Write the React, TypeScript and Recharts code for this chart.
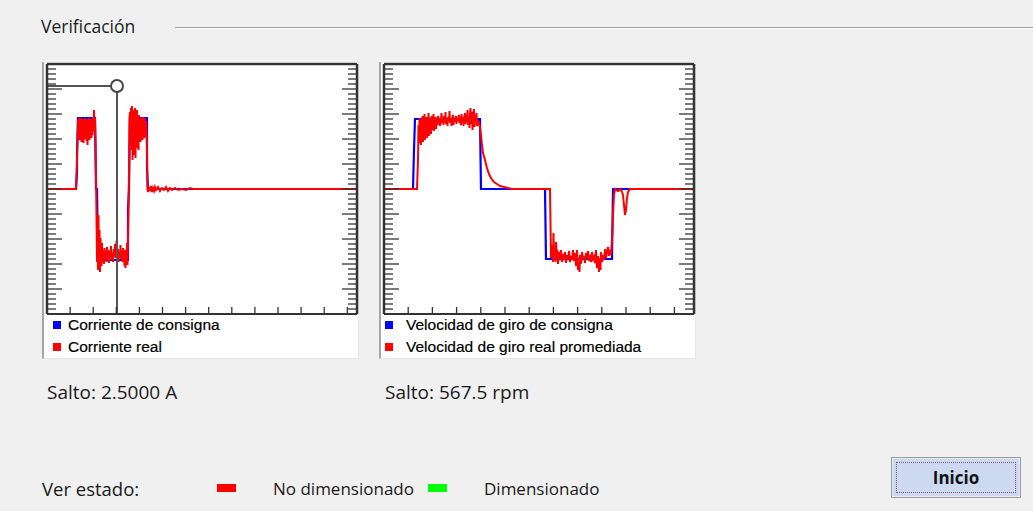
import React from 'react';
import { LineChart, Line, XAxis, YAxis, ReferenceLine, ReferenceDot, Legend } from 'recharts';

// ---------- axis ticks ----------
const currentTimeTicks = [1, 2, 3, 4, 5, 6, 7, 8, 9, 10, 11, 12, 13];
const speedTimeTicks = [1, 2, 3, 4, 5, 6, 7, 8, 9, 10, 11, 12];
const yMajorTicks = [-4, -3, -2, -1, 0, 1, 2, 3, 4];
const yMinorTicks = [
  -4.8, -4.6, -4.4, -4.2, -3.8, -3.6, -3.4, -3.2, -2.8, -2.6, -2.4, -2.2, -1.8, -1.6, -1.4, -1.2,
  -0.8, -0.6, -0.4, -0.2, 0.2, 0.4, 0.6, 0.8, 1.2, 1.4, 1.6, 1.8, 2.2, 2.4, 2.6, 2.8, 3.2, 3.4,
  3.6, 3.8, 4.2, 4.4, 4.6, 4.8,
];
const currentTimeDomain = [0, 13.42];
const speedTimeDomain = [0, 12.81];
const valueDomain = [-5, 5];

// ---------- series names ----------
const currentSeriesNames = ['Corriente de consigna', 'Corriente real'];
const speedSeriesNames = ['Velocidad de giro de consigna', 'Velocidad de giro real promediada'];

// ---------- current chart: [time, value] ----------
const currentSetpoint: number[][] = [
  [0, 0], [1.255, 0], [1.299, 0.68], [1.299, 1.36], [1.342, 2.84], [2.078, 2.84], [2.121, 0],
  [2.165, 0], [2.208, -2.84], [3.506, -2.84], [3.506, -0.84], [3.55, 0], [3.593, 2.84],
  [4.329, 2.84], [4.329, 0.84], [4.372, 0], [13.42, 0],
];

const currentReal: number[][] = [
  [0, 0], [1.255, 0], [1.299, 1.16], [1.342, 2.76], [1.364, 2.16], [1.385, 2.84], [1.407, 1.96],
  [1.429, 2.68], [1.45, 2.04], [1.472, 2.84], [1.494, 1.88], [1.515, 2.56], [1.537, 2.24],
  [1.558, 2.8], [1.58, 1.84], [1.602, 2.72], [1.623, 2.0], [1.645, 2.84], [1.667, 2.12],
  [1.688, 2.6], [1.71, 1.92], [1.732, 2.8], [1.753, 1.76], [1.775, 2.68], [1.797, 2.08],
  [1.818, 2.84], [1.84, 1.96], [1.861, 2.52], [1.883, 2.28], [1.905, 2.8], [1.926, 2.04],
  [1.948, 2.72], [1.97, 2.16], [1.991, 2.88], [2.013, 2.44], [2.035, 3.16], [2.056, 2.32],
  [2.078, 2.84], [2.1, 1.96], [2.121, 0.56], [2.143, -1.04], [2.165, -2.92], [2.186, -2.24],
  [2.208, -3.24], [2.229, -1.04], [2.251, -3.0], [2.273, -1.64], [2.294, -3.32], [2.316, -1.96],
  [2.338, -2.64], [2.359, -3.08], [2.381, -2.16], [2.403, -2.92], [2.424, -2.44], [2.468, -3.0],
  [2.489, -2.36], [2.511, -2.76], [2.554, -2.48], [2.576, -2.92], [2.597, -2.32], [2.641, -2.76],
  [2.662, -2.44], [2.684, -2.96], [2.727, -2.52], [2.749, -2.76], [2.771, -2.28], [2.814, -2.84],
  [2.835, -2.56], [2.857, -2.92], [2.9, -2.4], [2.922, -2.72], [2.944, -2.2], [2.987, -2.76],
  [3.009, -2.08], [3.03, -2.64], [3.074, -2.4], [3.095, -2.92], [3.117, -2.52], [3.16, -2.76],
  [3.182, -2.24], [3.203, -2.8], [3.247, -2.48], [3.268, -2.92], [3.29, -2.36], [3.333, -2.68],
  [3.355, -3.08], [3.377, -2.44], [3.398, -3.16], [3.42, -2.52], [3.442, -2.92], [3.463, -2.16],
  [3.485, -3.04], [3.506, -2.04], [3.528, -1.04], [3.55, 0.76], [3.571, 2.84], [3.593, 3.08],
  [3.615, 2.16], [3.636, 3.24], [3.658, 1.56], [3.68, 3.32], [3.701, 1.16], [3.723, 3.16],
  [3.745, 1.76], [3.766, 3.08], [3.788, 1.36], [3.81, 3.24], [3.831, 1.24], [3.853, 2.96],
  [3.874, 1.64], [3.896, 3.16], [3.918, 1.96], [3.939, 2.84], [3.961, 1.56], [3.983, 2.96],
  [4.004, 2.04], [4.026, 2.76], [4.048, 1.88], [4.069, 2.84], [4.091, 2.16], [4.113, 2.68],
  [4.134, 1.96], [4.156, 2.88], [4.177, 2.28], [4.199, 2.76], [4.221, 2.04], [4.242, 2.84],
  [4.264, 2.36], [4.286, 2.72], [4.307, 2.44], [4.329, 1.56], [4.351, 0], [4.372, -0.12],
  [4.416, 0.08], [4.459, -0.08], [4.502, 0.12], [4.545, -0.12], [4.589, 0.04], [4.632, -0.08],
  [4.675, 0.08], [4.719, -0.04], [4.805, 0.08], [4.892, -0.08], [4.978, 0.04], [5.065, -0.04],
  [5.152, 0.08], [5.238, -0.08], [5.325, 0.04], [5.411, -0.04], [5.541, 0.04], [5.671, -0.04],
  [5.844, 0], [6.017, -0.04], [6.19, 0.04], [6.32, 0], [13.42, 0],
];

// cursor on the current chart
const cursorTime = 3.03;
const cursorValue = 4.12;

// ---------- speed chart: [time, value] ----------
const speedSetpoint: number[][] = [
  [0, 0], [1.198, 0], [1.24, 1.56], [1.281, 2.8], [3.967, 2.8], [4.008, 0], [6.653, 0],
  [6.694, -2.8], [9.421, -2.8], [9.463, 0], [12.81, 0],
];

const speedReal: number[][] = [
  [0, 0], [1.364, 0], [1.405, 1.16], [1.426, 2.56], [1.446, 1.84], [1.467, 2.84], [1.488, 1.96],
  [1.508, 2.68], [1.529, 1.76], [1.55, 2.76], [1.57, 2.04], [1.591, 2.92], [1.612, 1.88],
  [1.632, 2.6], [1.653, 2.12], [1.674, 3.0], [1.694, 1.96], [1.715, 2.72], [1.736, 2.16],
  [1.756, 2.88], [1.777, 2.04], [1.798, 2.6], [1.818, 2.24], [1.839, 3.04], [1.86, 2.12],
  [1.88, 2.8], [1.901, 2.32], [1.921, 2.68], [1.942, 2.2], [1.963, 2.92], [1.983, 2.36],
  [2.004, 2.72], [2.025, 2.44], [2.045, 3.0], [2.066, 2.32], [2.087, 2.76], [2.107, 2.48],
  [2.128, 2.88], [2.149, 2.4], [2.19, 2.8], [2.211, 2.56], [2.231, 2.92], [2.273, 2.6],
  [2.293, 2.84], [2.314, 2.52], [2.355, 2.76], [2.376, 3.04], [2.397, 2.64], [2.438, 2.84],
  [2.459, 2.56], [2.479, 2.92], [2.521, 2.68], [2.541, 3.08], [2.562, 2.6], [2.603, 2.8],
  [2.624, 2.52], [2.645, 2.88], [2.686, 2.72], [2.707, 3.12], [2.727, 2.64], [2.769, 2.84],
  [2.789, 2.52], [2.81, 2.76], [2.851, 2.96], [2.872, 2.56], [2.893, 2.8], [2.934, 2.68],
  [2.975, 2.92], [2.996, 2.6], [3.017, 2.84], [3.058, 2.72], [3.099, 2.96], [3.12, 2.64],
  [3.14, 2.84], [3.182, 2.56], [3.202, 3.0], [3.223, 2.72], [3.264, 2.88], [3.285, 2.52],
  [3.306, 2.8], [3.347, 3.04], [3.368, 2.6], [3.388, 2.84], [3.43, 2.68], [3.45, 3.16],
  [3.471, 2.56], [3.512, 2.92], [3.533, 2.44], [3.554, 3.0], [3.574, 3.24], [3.595, 2.6],
  [3.636, 3.08], [3.657, 2.36], [3.678, 2.88], [3.719, 3.2], [3.74, 2.48], [3.76, 2.96],
  [3.802, 2.72], [3.822, 3.04], [3.843, 2.52], [3.884, 2.76], [3.926, 2.64], [3.967, 2.44],
  [4.008, 2.16], [4.05, 1.76], [4.091, 1.44], [4.174, 1.16], [4.256, 0.84], [4.339, 0.6],
  [4.421, 0.44], [4.545, 0.28], [4.669, 0.2], [4.793, 0.12], [4.959, 0.08], [5.124, 0.04],
  [5.289, 0], [6.86, 0], [6.901, -2.76], [6.942, -2.24], [6.983, -2.92], [7.004, -1.76],
  [7.025, -2.72], [7.066, -2.36], [7.087, -2.92], [7.107, -2.12], [7.149, -2.76], [7.169, -2.44],
  [7.19, -3.0], [7.231, -2.52], [7.273, -2.8], [7.314, -2.44], [7.355, -2.92], [7.397, -2.6],
  [7.438, -2.84], [7.479, -2.52], [7.521, -2.96], [7.562, -2.64], [7.603, -2.76], [7.645, -2.48],
  [7.686, -2.92], [7.727, -2.68], [7.769, -2.84], [7.81, -2.44], [7.851, -2.88], [7.893, -2.56],
  [7.934, -3.08], [7.975, -2.44], [8.017, -3.24], [8.058, -2.92], [8.079, -3.32], [8.099, -2.64],
  [8.14, -3.0], [8.182, -2.52], [8.223, -2.8], [8.264, -2.68], [8.306, -2.96], [8.347, -2.56],
  [8.388, -2.76], [8.43, -2.48], [8.471, -2.88], [8.512, -2.64], [8.554, -2.92], [8.595, -2.52],
  [8.636, -2.8], [8.678, -2.72], [8.719, -2.96], [8.76, -2.44], [8.802, -3.16], [8.843, -2.68],
  [8.884, -3.32], [8.926, -2.76], [8.946, -3.24], [8.967, -2.52], [9.008, -2.92], [9.05, -2.64],
  [9.091, -2.84], [9.132, -2.4], [9.174, -2.76], [9.215, -2.52], [9.256, -2.32], [9.298, -2.68],
  [9.339, -2.44], [9.38, -2.64], [9.421, -2.04], [9.463, -1.04], [9.504, -0.24], [9.545, 0],
  [9.669, -0.08], [9.793, 0], [9.876, -0.24], [9.917, -0.64], [9.959, -1.04], [10.0, -0.84],
  [10.041, -0.36], [10.083, -0.12], [10.165, 0], [12.81, 0],
];

// ---------- texts ----------
const groupTitle = 'Verificación';
const currentJumpLabel = 'Salto: 2.5000 A';
const speedJumpLabel = 'Salto: 567.5 rpm';
const statusLabel = 'Ver estado:';
const statusItems = [
  { label: 'No dimensionado', color: '#ff0000' },
  { label: 'Dimensionado', color: '#00ff00' },
];
const buttonLabel = 'Inicio';

const toPoints = (rows: number[][]) => rows.map(([t, v]) => ({ t, v }));

const UI_FONT = '"Open Sans", "Noto Sans", sans-serif';
const LEGEND_FONT = '"Liberation Sans", Arial, sans-serif';
const FRAME = '#333333';

const makeLegend = (squareLeft: number, textLeft: number) => (props: any) => {
  const payload = props.payload || [];
  return (
    <div style={{ position: 'relative', height: 44, fontFamily: LEGEND_FONT, fontSize: 15.5, color: '#000' }}>
      {payload.map((p: any, i: number) => (
        <div key={i} style={{ position: 'absolute', left: 0, top: i * 22, height: 22, width: '100%' }}>
          <span style={{ position: 'absolute', left: squareLeft, top: 7, width: 8, height: 8, background: p.color }} />
          <span style={{ position: 'absolute', left: textLeft, top: 0, lineHeight: '22px', whiteSpace: 'nowrap', WebkitTextStroke: '0.2px #000' }}>{p.value}</span>
        </div>
      ))}
    </div>
  );
};

// tick labels are not shown: only the tick lines
const noLabel = () => <g />;

function renderAxes(domain: number[], ticks: number[]) {
  return [
    <XAxis key="xb" xAxisId="b" type="number" dataKey="t" domain={domain} ticks={ticks} interval={0}
      orientation="bottom" mirror height={1} tick={noLabel} tickSize={7} stroke={FRAME}
      tickLine={{ stroke: FRAME, strokeWidth: 1.3 }}
      axisLine={{ stroke: FRAME, strokeWidth: 2 }} allowDataOverflow />,
    <XAxis key="xt" xAxisId="top" type="number" domain={domain} ticks={ticks} interval={0} orientation="top" mirror height={1}
      tick={noLabel} tickLine={false} stroke={FRAME} axisLine={{ stroke: FRAME, strokeWidth: 2.5 }} allowDataOverflow />,
    <YAxis key="yl" yAxisId="L" type="number" domain={valueDomain} ticks={yMajorTicks} interval={0}
      orientation="left" mirror width={1} tick={noLabel} tickSize={15} stroke={FRAME}
      tickLine={{ stroke: FRAME, strokeWidth: 1.3 }}
      axisLine={{ stroke: FRAME, strokeWidth: 2.5 }} allowDataOverflow />,
    <YAxis key="ylm" yAxisId="Lm" type="number" domain={valueDomain} ticks={yMinorTicks} interval={0}
      orientation="left" mirror width={1} tick={noLabel} tickSize={8} stroke={FRAME}
      tickLine={{ stroke: FRAME, strokeWidth: 1.3 }} axisLine={false} allowDataOverflow />,
    <YAxis key="yr" yAxisId="R" type="number" domain={valueDomain} ticks={yMajorTicks} interval={0}
      orientation="right" mirror width={1} tick={noLabel} tickSize={15} stroke={FRAME}
      tickLine={{ stroke: FRAME, strokeWidth: 1.3 }}
      axisLine={{ stroke: FRAME, strokeWidth: 2.5 }} allowDataOverflow />,
    <YAxis key="yrm" yAxisId="Rm" type="number" domain={valueDomain} ticks={yMinorTicks} interval={0}
      orientation="right" mirror width={1} tick={noLabel} tickSize={8} stroke={FRAME}
      tickLine={{ stroke: FRAME, strokeWidth: 1.3 }} axisLine={false} allowDataOverflow />,
  ];
}

const Text = ({ x, cy, size, children, bold }: any) => (
  <div style={{ position: 'absolute', left: x, top: cy - 14, height: 28, lineHeight: '28px', fontSize: size,
    fontWeight: bold ? 700 : 400, whiteSpace: 'nowrap', color: '#1a1a1a' }}>{children}</div>
);

const panelStyle = (left: number): React.CSSProperties => ({
  position: 'absolute', left, top: 62, width: 314, height: 296, background: '#fff',
  borderLeft: '2px solid #a5a5a5', borderRight: '1px solid #e6e6e6', borderBottom: '1px solid #e6e6e6',
});

export default function App() {
  const chartMargin = { top: 3, right: 2, bottom: 0, left: 4 };
  return (
    <div style={{ position: 'fixed', left: 0, top: 0, width: 1033, height: 511, background: '#f0f0f0', overflow: 'hidden', fontFamily: UI_FONT }}>
      <Text x={41} cy={26} size={17.5}>{groupTitle}</Text>
      <div style={{ position: 'absolute', left: 175, top: 27, width: 858, height: 1, background: '#a0a0a0', borderBottom: '1px solid #ffffff' }} />

      {/* current panel */}
      <div style={panelStyle(42)} />
      <div style={{ position: 'absolute', left: 43, top: 61 }}>
        <LineChart width={316} height={297} margin={chartMargin}>
          {renderAxes(currentTimeDomain, currentTimeTicks)}
          <Line xAxisId="b" yAxisId="L" data={toPoints(currentSetpoint)} dataKey="v" name={currentSeriesNames[0]}
            type="linear" stroke="#0000ff" strokeWidth={2.2} dot={false} isAnimationActive={false} />
          <Line xAxisId="b" yAxisId="L" data={toPoints(currentReal)} dataKey="v" name={currentSeriesNames[1]}
            type="linear" stroke="#ff0000" strokeWidth={2} dot={false} isAnimationActive={false} />
          <ReferenceLine xAxisId="b" yAxisId="L" segment={[{ x: cursorTime, y: valueDomain[0] }, { x: cursorTime, y: cursorValue }]}
            stroke="#555" strokeWidth={2} ifOverflow="visible" />
          <ReferenceLine xAxisId="b" yAxisId="L" segment={[{ x: currentTimeDomain[0], y: cursorValue }, { x: cursorTime, y: cursorValue }]}
            stroke="#555" strokeWidth={2} ifOverflow="visible" />
          <ReferenceDot xAxisId="b" yAxisId="L" x={cursorTime} y={cursorValue} r={6} fill="#fff" stroke="#444" strokeWidth={2} ifOverflow="visible" />
          <Legend verticalAlign="bottom" align="left" layout="horizontal" content={makeLegend(10, 25)}
            wrapperStyle={{ left: 0, width: 316 }} />
        </LineChart>
      </div>

      {/* speed panel */}
      <div style={panelStyle(379)} />
      <div style={{ position: 'absolute', left: 380, top: 61 }}>
        <LineChart width={316} height={297} margin={chartMargin}>
          {renderAxes(speedTimeDomain, speedTimeTicks)}
          <Line xAxisId="b" yAxisId="L" data={toPoints(speedSetpoint)} dataKey="v" name={speedSeriesNames[0]}
            type="linear" stroke="#0000ff" strokeWidth={2.2} dot={false} isAnimationActive={false} />
          <Line xAxisId="b" yAxisId="L" data={toPoints(speedReal)} dataKey="v" name={speedSeriesNames[1]}
            type="linear" stroke="#ff0000" strokeWidth={2} dot={false} isAnimationActive={false} />
          <Legend verticalAlign="bottom" align="left" layout="horizontal" content={makeLegend(5, 26)}
            wrapperStyle={{ left: 0, width: 316 }} />
        </LineChart>
      </div>

      <Text x={47} cy={392} size={19}>{currentJumpLabel}</Text>
      <Text x={385} cy={392} size={19}>{speedJumpLabel}</Text>

      <Text x={42} cy={489} size={18.5}>{statusLabel}</Text>
      <div style={{ position: 'absolute', left: 217, top: 484, width: 19, height: 8, background: statusItems[0].color }} />
      <Text x={273} cy={489} size={17}>{statusItems[0].label}</Text>
      <div style={{ position: 'absolute', left: 428, top: 484, width: 19, height: 8, background: statusItems[1].color }} />
      <Text x={484} cy={489} size={17}>{statusItems[1].label}</Text>

      <div style={{ position: 'absolute', left: 891, top: 457, width: 128, height: 39, border: '1px solid #9c9c9c',
        background: '#ccd9f1', boxShadow: 'inset 0 0 0 1px #e4ebf8' }}>
        <div style={{ position: 'absolute', left: 4, top: 4, right: 4, bottom: 4, border: '1px dotted #8a4d6a' }} />
        <div style={{ position: 'absolute', left: 0, top: 0, width: 128, height: 39, lineHeight: '39px', textAlign: 'center',
          fontWeight: 700, fontSize: 17, color: '#111' }}>{buttonLabel}</div>
      </div>
    </div>
  );
}
